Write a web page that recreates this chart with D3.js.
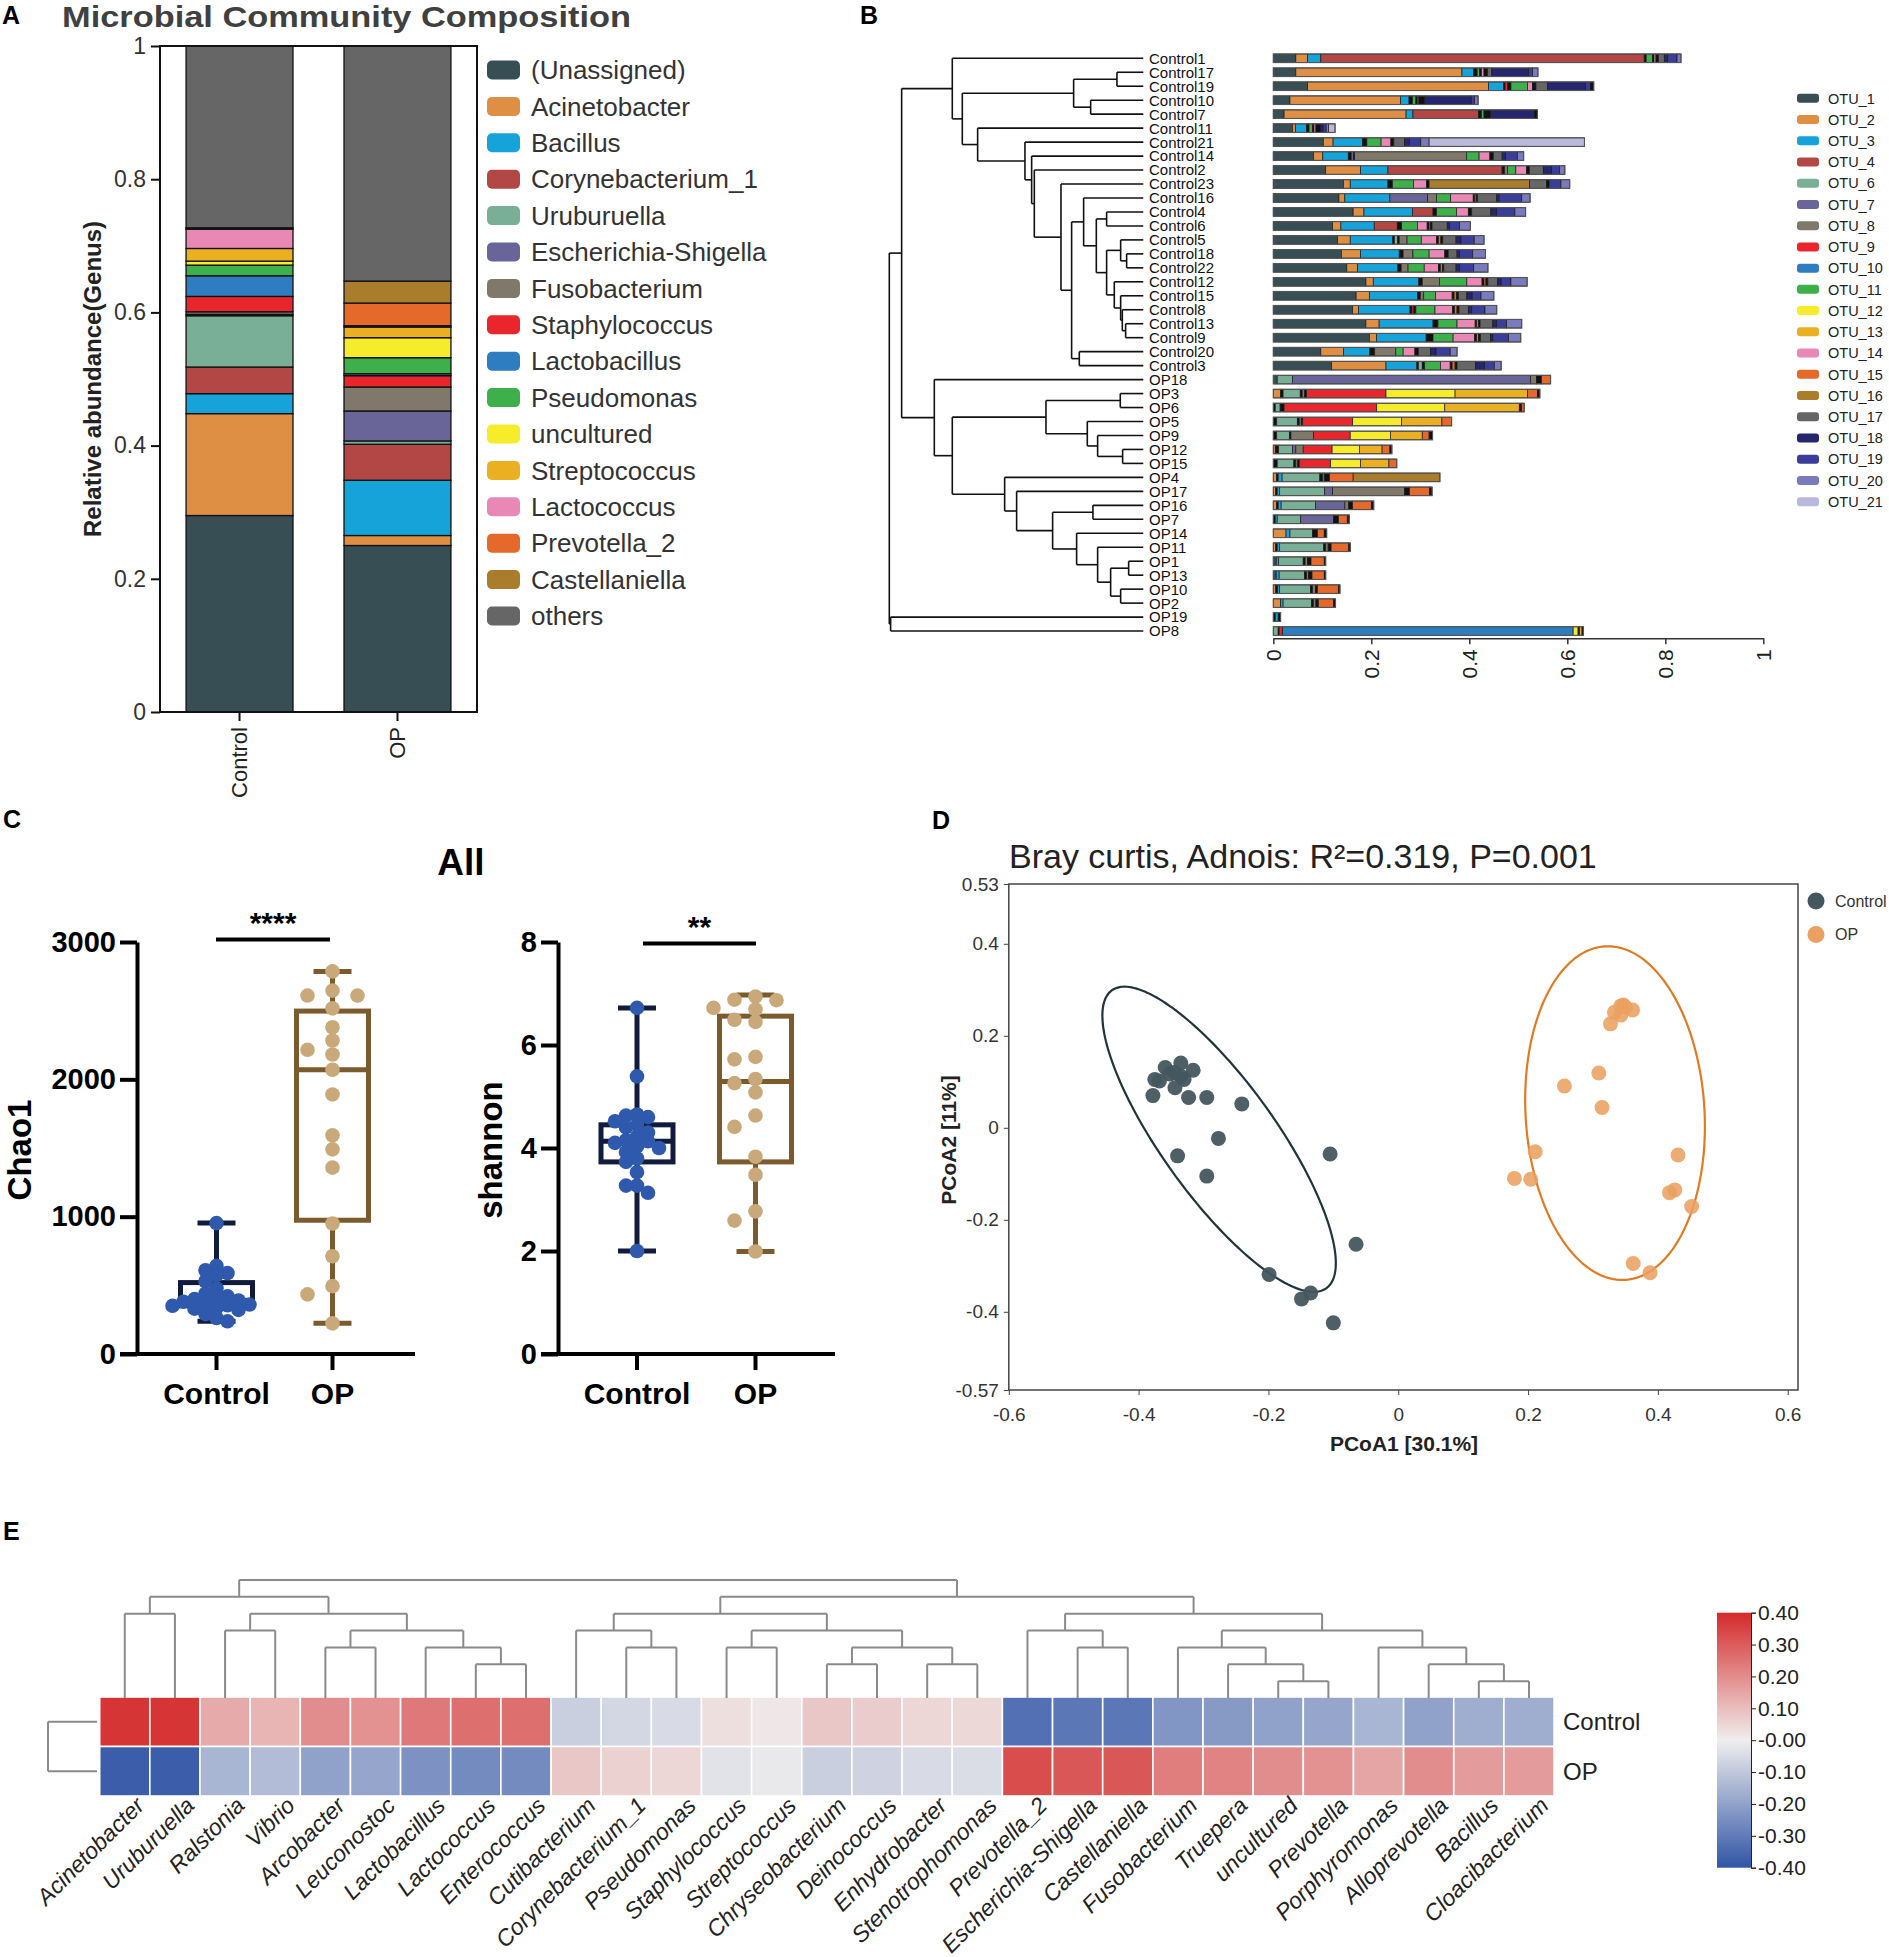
<!DOCTYPE html>
<html><head><meta charset="utf-8">
<script src="https://cdn.jsdelivr.net/npm/d3@7"></script>
<style>
body{margin:0;background:#fff}
svg{display:block}
svg text{font-family:"Liberation Sans",Arial,Helvetica,sans-serif}
</style>
</head><body>
<svg id="chart" width="1889" height="1957"></svg>
<script>
// ================= DATA =================
// Panel A
const genera = ["(Unassigned)","Acinetobacter","Bacillus","Corynebacterium_1","Uruburuella","Escherichia-Shigella","Fusobacterium","Staphylococcus","Lactobacillus","Pseudomonas","uncultured","Streptococcus","Lactococcus","Prevotella_2","Castellaniella","others"];
const genusColors = ["#374E55","#DF8F44","#16A3DA","#B24745","#79AF97","#6A6599","#80796B","#E8262B","#2F7DC1","#3DB04C","#F7EC2B","#EBB022","#E987B5","#E4692A","#A97D2C","#666666"];
const groupsA = ["Control","OP"];
const controlGenus = [0.295,0.153,0.030,0.040,0.077,0.002,0.004,0.023,0.031,0.016,0.006,0.019,0.029,0.001,0.001,0.273];
const opGenus      = [0.250,0.015,0.083,0.054,0.005,0.045,0.036,0.017,0.003,0.024,0.030,0.016,0.002,0.034,0.033,0.353];
const abundanceTicks = [0,0.2,0.4,0.6,0.8,1];

// Panel B
const otuNames = ["OTU_1","OTU_2","OTU_3","OTU_4","OTU_6","OTU_7","OTU_8","OTU_9","OTU_10","OTU_11","OTU_12","OTU_13","OTU_14","OTU_15","OTU_16","OTU_17","OTU_18","OTU_19","OTU_20","OTU_21"];
const otuColorList = ["#374E55","#DF8F44","#16A3DA","#B24745","#79AF97","#6A6599","#80796B","#E8262B","#2F7DC1","#3DB04C","#F7EC2B","#EBB022","#E987B5","#E4692A","#A97D2C","#666666","#26266E","#3B3D9A","#7B7ABD","#B9B8DD"];
const otherOtuColor = "#111111"; // key 0 : small unlisted OTUs
const relTicks = [0,0.2,0.4,0.6,0.8,1];
const sampleTree = {h:1.0,c:[
  {h:0.9514,c:[
    {h:0.752,c:["Control1",
      {h:0.7126,c:[
        {h:0.2743,c:[{h:0.1037,c:["Control17","Control19"]},{h:0.2073,c:["Control10","Control7"]}]},
        {h:0.6522,c:["Control11",
          {h:0.4659,c:["Control21",
            {h:0.4396,c:["Control14",
              {h:0.4291,c:["Control2",
                {h:0.3241,c:["Control23",
                  {h:0.2822,c:[
                    {h:0.2349,c:["Control16",
                      {h:0.185,c:[
                        {h:0.1444,c:["Control4","Control6"]},
                        {h:0.1444,c:[
                          {h:0.0892,c:["Control5",{h:0.0656,c:["Control18","Control22"]}]},
                          {h:0.1142,c:["Control12",{h:0.0892,c:["Control15",{h:0.0827,c:["Control8",{h:0.0696,c:["Control13","Control9"]}]}]}]}
                        ]}
                      ]}
                    ]},
                    {h:0.252,c:["Control20","Control3"]}
                  ]}
                ]}
              ]}
            ]}
          ]}
        ]}
      ]}
    ]},
    {h:0.8228,c:["OP18",
      {h:0.752,c:[
        {h:0.3832,c:[{h:0.0906,c:["OP3","OP6"]},{h:0.2205,c:["OP5",{h:0.1798,c:["OP9",{h:0.0814,c:["OP12","OP15"]}]}]}]},
        {h:0.5459,c:["OP4",
          {h:0.4987,c:["OP17",
            {h:0.357,c:[
              {h:0.1982,c:["OP16","OP7"]},
              {h:0.2625,c:["OP14",{h:0.1798,c:["OP11",{h:0.1286,c:[{h:0.0577,c:["OP1","OP13"]},{h:0.0892,c:["OP10","OP2"]}]}]}]}
            ]}
          ]}
        ]}
      ]}
    ]}
  ]},
  {h:0.9948,c:["OP19","OP8"]}
]};
// [otu number, relative abundance] in stacking order (0 = small unlisted OTUs)
const sampleSegments = {
 Control1:[[1,.046],[2,.024],[3,.027],[4,.660],[0,.004],[11,.013],[0,.003],[14,.004],[0,.005],[17,.012],[18,.007],[19,.019],[20,.008]],
 Control17:[[1,.046],[2,.339],[3,.024],[0,.007],[11,.005],[0,.004],[14,.005],[0,.007],[17,.009],[18,.075],[19,.008],[20,.011]],
 Control19:[[1,.070],[2,.369],[3,.031],[0,.003],[9,.005],[0,.007],[11,.034],[14,.010],[0,.007],[17,.024],[18,.077],[19,.010],[0,.007]],
 Control10:[[1,.034],[2,.226],[3,.017],[0,.007],[11,.007],[0,.003],[14,.003],[0,.012],[18,.095],[19,.007],[20,.007]],
 Control7:[[1,.022],[2,.249],[3,.014],[4,.134],[0,.006],[11,.005],[0,.013],[18,.090],[0,.006]],
 Control11:[[1,.039],[2,.006],[3,.023],[0,.005],[11,.007],[0,.003],[14,.004],[0,.010],[18,.005],[19,.006],[20,.005],[21,.013]],
 Control21:[[1,.102],[2,.020],[3,.060],[0,.009],[11,.029],[14,.020],[0,.006],[17,.022],[18,.010],[19,.023],[20,.017],[21,.317]],
 Control14:[[1,.082],[2,.019],[3,.052],[0,.006],[7,.005],[0,.002],[8,.228],[11,.026],[14,.022],[0,.007],[17,.018],[18,.007],[19,.024],[20,.013]],
 Control2:[[1,.107],[2,.071],[3,.056],[4,.233],[0,.005],[8,.006],[11,.017],[14,.022],[0,.006],[17,.028],[18,.017],[19,.016],[20,.011]],
 Control23:[[1,.143],[2,.014],[3,.077],[0,.009],[11,.043],[14,.027],[0,.005],[16,.205],[17,.035],[0,.005],[19,.024],[20,.018]],
 Control16:[[1,.134],[2,.012],[3,.092],[7,.077],[8,.018],[11,.029],[14,.046],[0,.003],[15,.003],[0,.003],[17,.039],[18,.005],[19,.046],[20,.017]],
 Control4:[[1,.163],[2,.022],[3,.099],[4,.042],[0,.007],[11,.041],[14,.024],[0,.007],[17,.039],[18,.012],[19,.037],[20,.022]],
 Control6:[[1,.121],[2,.017],[3,.068],[4,.047],[0,.009],[11,.032],[14,.020],[0,.004],[15,.003],[0,.003],[17,.031],[18,.005],[19,.020],[20,.022]],
 Control5:[[1,.131],[2,.026],[3,.087],[0,.003],[6,.007],[0,.003],[8,.016],[11,.029],[14,.031],[0,.004],[15,.005],[0,.004],[17,.027],[18,.010],[19,.027],[20,.020]],
 Control18:[[1,.139],[2,.039],[3,.079],[0,.008],[8,.020],[11,.033],[14,.032],[0,.007],[17,.018],[18,.005],[19,.027],[20,.026]],
 Control22:[[1,.150],[2,.022],[3,.082],[0,.007],[8,.014],[11,.033],[14,.029],[0,.004],[15,.004],[0,.003],[17,.025],[18,.007],[19,.029],[20,.029]],
 Control12:[[1,.189],[2,.015],[3,.093],[0,.007],[8,.035],[11,.056],[14,.031],[0,.004],[15,.004],[0,.004],[17,.020],[18,.007],[19,.020],[20,.033]],
 Control15:[[1,.169],[2,.027],[3,.098],[0,.006],[8,.007],[11,.024],[14,.034],[0,.004],[15,.005],[0,.004],[17,.017],[18,.011],[19,.018],[20,.026]],
 Control8:[[1,.162],[2,.012],[3,.105],[0,.004],[9,.004],[0,.004],[11,.039],[14,.036],[0,.004],[15,.005],[0,.004],[17,.019],[18,.007],[19,.027],[20,.024]],
 Control13:[[1,.189],[2,.027],[3,.110],[0,.010],[11,.039],[14,.037],[0,.003],[15,.004],[0,.003],[17,.026],[18,.008],[19,.020],[20,.031]],
 Control9:[[1,.196],[2,.015],[3,.101],[0,.014],[11,.041],[14,.044],[0,.004],[15,.004],[0,.004],[17,.020],[18,.005],[19,.032],[20,.025]],
 Control20:[[1,.097],[2,.046],[3,.054],[0,.010],[8,.043],[11,.015],[14,.024],[0,.007],[17,.025],[18,.011],[19,.029],[20,.014]],
 Control3:[[1,.119],[2,.111],[3,.063],[0,.003],[6,.008],[0,.005],[11,.032],[14,.020],[0,.004],[15,.006],[0,.004],[17,.038],[18,.018],[19,.020],[20,.014]],
 OP18:[[1,.008],[6,.031],[7,.486],[8,.012],[0,.010],[15,.019]],
 OP3:[[2,.015],[0,.005],[6,.035],[0,.004],[8,.005],[0,.004],[9,.162],[12,.141],[13,.148],[15,.020],[0,.005]],
 OP6:[[0,.004],[6,.010],[0,.008],[9,.189],[12,.139],[13,.152],[0,.005],[15,.005]],
 OP5:[[0,.007],[6,.042],[0,.004],[8,.004],[0,.003],[9,.102],[12,.100],[13,.082],[15,.020]],
 OP9:[[0,.007],[6,.026],[0,.003],[8,.046],[9,.075],[12,.082],[13,.065],[15,.014],[0,.007]],
 OP12:[[2,.004],[0,.007],[6,.028],[7,.007],[8,.015],[9,.059],[12,.056],[13,.046],[15,.016],[0,.004]],
 OP15:[[0,.008],[6,.034],[0,.004],[8,.004],[0,.003],[9,.064],[12,.061],[13,.058],[15,.016]],
 OP4:[[2,.007],[0,.003],[3,.008],[6,.077],[0,.006],[10,.004],[0,.010],[15,.048],[16,.177]],
 OP17:[[2,.005],[0,.003],[3,.005],[6,.092],[7,.016],[8,.147],[0,.010],[15,.041],[0,.005]],
 OP16:[[2,.007],[0,.003],[3,.006],[6,.070],[7,.060],[8,.008],[0,.008],[15,.038],[0,.005]],
 OP7:[[0,.004],[3,.004],[6,.048],[7,.067],[0,.010],[15,.018],[0,.004]],
 OP14:[[2,.026],[3,.008],[6,.046],[0,.010],[15,.014],[0,.005]],
 OP11:[[2,.005],[0,.003],[3,.005],[6,.090],[0,.004],[8,.005],[0,.006],[15,.036],[0,.003]],
 OP1:[[1,.006],[3,.005],[6,.050],[0,.004],[8,.005],[0,.007],[15,.027],[0,.003]],
 OP13:[[1,.006],[3,.006],[6,.052],[0,.004],[8,.004],[0,.007],[15,.025],[0,.003]],
 OP10:[[2,.005],[0,.004],[3,.004],[6,.063],[0,.004],[8,.006],[0,.004],[15,.043],[0,.003]],
 OP2:[[2,.015],[3,.005],[6,.058],[0,.004],[8,.005],[0,.005],[15,.031],[0,.004]],
 OP19:[[0,.004],[3,.006],[0,.005]],
 OP8:[[6,.010],[0,.002],[9,.007],[10,.593],[12,.010],[0,.003],[13,.005],[0,.003]]
};

// Panel C
const groupsC = ["Control","OP"];
const chaoControl = [953,642,610,589,574,530,478,440,420,411,400,390,381,370,360,355,351,337,330,321,290,262,238];
const chaoOP = [2786,2646,2610,2610,2517,2379,2283,2215,2181,2070,1890,1592,1490,1357,950,712,494,434,223];
const shannonControl = [6.72,5.39,4.65,4.63,4.60,4.52,4.45,4.40,4.30,4.22,4.15,4.13,4.10,4.03,4.00,3.92,3.80,3.73,3.53,3.27,3.27,3.13,2.00];
const shannonOP = [6.94,6.88,6.87,6.72,6.69,6.49,6.45,5.77,5.72,5.34,5.26,5.08,4.63,4.41,3.83,3.48,2.77,2.59,1.99];
// [min, q1, median, q3, max]
const chaoBoxControl = [238,351,390,520,953];
const chaoBoxOP = [223,974,2070,2497,2786];
const shannonBoxControl = [2.00,3.73,4.13,4.45,6.72];
const shannonBoxOP = [1.99,3.73,5.29,6.56,6.97];
const chaoTicks = [0,1000,2000,3000];
const shannonTicks = [0,2,4,6,8];

// Panel D
const pcoaControl = [[-0.335,0.141],[-0.359,0.131],[-0.316,0.125],[-0.352,0.117],[-0.345,0.120],[-0.375,0.105],[-0.368,0.102],[-0.330,0.105],[-0.335,0.112],[-0.344,0.087],[-0.378,0.070],[-0.323,0.066],[-0.295,0.066],[-0.241,0.052],[-0.277,-0.023],[-0.340,-0.061],[-0.295,-0.105],[-0.105,-0.057],[-0.065,-0.253],[-0.199,-0.319],[-0.135,-0.359],[-0.149,-0.372],[-0.100,-0.424]];
const pcoaOP = [[0.347,0.267],[0.343,0.265],[0.350,0.262],[0.333,0.251],[0.361,0.256],[0.343,0.245],[0.327,0.226],[0.309,0.119],[0.256,0.091],[0.314,0.044],[0.211,-0.052],[0.179,-0.110],[0.204,-0.112],[0.431,-0.059],[0.426,-0.135],[0.418,-0.141],[0.452,-0.171],[0.362,-0.295],[0.388,-0.315]];
// ellipse: centre and two semi-axis vectors in data units
const ellipseControl = {cx:-0.276, cy:-0.025, ax:0.165, ay:-0.324, bx:-0.0715, by:-0.0714};
const ellipseOP = {cx:0.334, cy:0.032, ax:0.0153, ay:-0.3625, bx:0.1376, by:0.0114};
const pcoaXTicks = [-0.6,-0.4,-0.2,0,0.2,0.4,0.6];
const pcoaYTicks = [0.53,0.4,0.2,0,-0.2,-0.4,-0.57];

// Panel E
const heatGenera = ["Acinetobacter","Uruburuella","Ralstonia","Vibrio","Arcobacter","Leuconostoc","Lactobacillus","Lactococcus","Enterococcus","Cutibacterium","Corynebacterium_1","Pseudomonas","Staphylococcus","Streptococcus","Chryseobacterium","Deinococcus","Enhydrobacter","Stenotrophomonas","Prevotella_2","Escherichia-Shigella","Castellaniella","Fusobacterium","Truepera","uncultured","Prevotella","Porphyromonas","Alloprevotella","Bacillus","Cloacibacterium"];
const heatRows = ["Control","OP"];
const heatControl = [0.38,0.38,0.14,0.12,0.20,0.19,0.24,0.26,0.26,-0.08,-0.06,-0.05,0.03,0.015,0.08,0.07,0.05,0.045,-0.33,-0.31,-0.31,-0.23,-0.22,-0.20,-0.19,-0.15,-0.20,-0.17,-0.17];
const heatOP      = [-0.38,-0.38,-0.15,-0.13,-0.20,-0.19,-0.24,-0.26,-0.26,0.08,0.06,0.05,-0.03,-0.015,-0.08,-0.07,-0.05,-0.045,0.33,0.31,0.31,0.23,0.22,0.20,0.19,0.15,0.20,0.17,0.17];
const heatTree = {h:7,c:[
 {h:6,c:[
   {h:5,c:["Acinetobacter","Uruburuella"]},
   {h:5,c:[
     {h:4,c:["Ralstonia","Vibrio"]},
     {h:4,c:[{h:3,c:["Arcobacter","Leuconostoc"]},{h:3,c:["Lactobacillus",{h:2,c:["Lactococcus","Enterococcus"]}]}]}
   ]}
 ]},
 {h:6,c:[
   {h:5,c:[
     {h:4,c:["Cutibacterium",{h:3,c:["Corynebacterium_1","Pseudomonas"]}]},
     {h:4,c:[{h:3,c:["Staphylococcus","Streptococcus"]},{h:3,c:[{h:2,c:["Chryseobacterium","Deinococcus"]},{h:2,c:["Enhydrobacter","Stenotrophomonas"]}]}]}
   ]},
   {h:5,c:[
     {h:4,c:["Prevotella_2",{h:3,c:["Escherichia-Shigella","Castellaniella"]}]},
     {h:4,c:[
       {h:3,c:["Fusobacterium",{h:2,c:["Truepera",{h:1,c:["uncultured","Prevotella"]}]}]},
       {h:3,c:["Porphyromonas",{h:2,c:["Alloprevotella",{h:1,c:["Bacillus","Cloacibacterium"]}]}]}
     ]}
   ]}
 ]}
]};
const colorbarTicks = [0.4,0.3,0.2,0.1,0,-0.1,-0.2,-0.3,-0.4];
const colorbarLabels = ["0.40","0.30","0.20","0.10","-0.00","-0.10","-0.20","-0.30","-0.40"];

// ================= DRAW =================
const svg = d3.select("#chart");

function panelLabel(t,x,y){
  svg.append("text").attr("x",x).attr("y",y).attr("font-size",25).attr("font-weight","bold").attr("fill","#000").text(t);
}
panelLabel("A",2,24); panelLabel("B",860,24); panelLabel("C",3,828); panelLabel("D",932,829); panelLabel("E",3,1540);

// ---------- Panel A ----------
(function(){
  const g = svg.append("g");
  const x = d3.scaleBand().domain(groupsA).range([160,477]).paddingInner(0.323).paddingOuter(0.165);
  const y = d3.scaleLinear().domain([0,1]).range([712,46]);
  const rows = groupsA.map((grp,i)=>{const vals=i===0?controlGenus:opGenus;const o={group:grp};genera.forEach((n,j)=>o[n]=vals[j]);return o;});
  const series = d3.stack().keys(genera)(rows);
  series.forEach((s,j)=>{
    g.selectAll(null).data(s).join("rect")
      .attr("x",d=>x(d.data.group)).attr("width",x.bandwidth())
      .attr("y",d=>y(d[1])).attr("height",d=>Math.max(0,y(d[0])-y(d[1])))
      .attr("fill",genusColors[j]).attr("stroke","#111").attr("stroke-width",1.3);
  });
  g.append("rect").attr("x",160).attr("y",y(1)).attr("width",317).attr("height",y(0)-y(1))
    .attr("fill","none").attr("stroke","#111").attr("stroke-width",2);
  const ax = g.append("g").attr("transform","translate(160,0)")
    .call(d3.axisLeft(y).tickValues(abundanceTicks).tickSize(9).tickPadding(5).tickFormat(d3.format("~g")));
  ax.select(".domain").remove();
  ax.selectAll("line").attr("stroke","#111").attr("stroke-width",2);
  ax.selectAll("text").attr("font-size",23).attr("fill","#333");
  groupsA.forEach(grp=>{
    const cx = x(grp)+x.bandwidth()/2;
    g.append("line").attr("x1",cx).attr("x2",cx).attr("y1",712).attr("y2",721).attr("stroke","#111").attr("stroke-width",2);
    g.append("text").attr("transform",`translate(${cx},727) rotate(-90)`).attr("dy","0.35em")
      .attr("text-anchor","end").attr("font-size",22).attr("fill","#222").text(grp);
  });
  g.append("text").attr("transform","translate(101,379) rotate(-90)").attr("text-anchor","middle")
    .attr("font-size",24).attr("font-weight","bold").attr("fill","#222").text("Relative abundance(Genus)");
  g.append("text").attr("x",62).attr("y",26.8).attr("font-size",29.5).attr("font-weight","bold").attr("fill","#404040")
    .attr("textLength",569).attr("lengthAdjust","spacingAndGlyphs")
    .text("Microbial Community Composition");
  const lg = g.append("g");
  genera.forEach((n,i)=>{
    const cy = 70 + i*36.4;
    lg.append("rect").attr("x",487).attr("y",cy-9.5).attr("width",33).attr("height",19).attr("rx",5)
      .attr("fill",genusColors[i]);
    lg.append("text").attr("x",531).attr("y",cy).attr("dy","0.35em").attr("font-size",26).attr("fill","#333").text(n);
  });
})();

// ---------- Panel B ----------
(function(){
  const g = svg.append("g");
  const root = d3.hierarchy(sampleTree, d => d.c ? d.c.map(v => typeof v === "string" ? {name:v} : v) : null);
  const leafOrder = root.leaves().map(l=>l.data.name);
  const yB = d3.scaleBand().domain(leafOrder).range([51.3, 51.3+leafOrder.length*13.97]);
  const hx = d3.scaleLinear().domain([0,1]).range([1143.3,889.3]);
  root.eachAfter(n=>{
    if(!n.children){ n.py = yB(n.data.name)+yB.bandwidth()/2; }
    else { n.py = (n.children[0].py + n.children[n.children.length-1].py)/2; }
    n.px = hx(n.data.h || 0);
  });
  const tg = g.append("g").attr("stroke","#111").attr("stroke-width",1.6).attr("fill","none");
  root.each(n=>{
    if(!n.children) return;
    tg.append("line").attr("x1",n.px).attr("x2",n.px).attr("y1",n.children[0].py).attr("y2",n.children[n.children.length-1].py);
    n.children.forEach(c=>tg.append("line").attr("x1",n.px).attr("x2",c.px).attr("y1",c.py).attr("y2",c.py));
  });
  leafOrder.forEach(s=>{
    g.append("text").attr("x",1149).attr("y",yB(s)+yB.bandwidth()/2).attr("dy","0.36em")
      .attr("font-size",15).attr("fill","#111").text(s);
  });
  const xB = d3.scaleLinear().domain([0,1]).range([1273.3,1763.3]);
  const colorOf = k => k===0 ? otherOtuColor : otuColorList[otuNames.indexOf("OTU_"+k)];
  const bh = 8.6;
  leafOrder.forEach(s=>{
    const cy = yB(s)+yB.bandwidth()/2;
    let acc = 0;
    const segs = sampleSegments[s].map(([k,v])=>{const o={k,v,x0:acc};acc+=v;o.x1=acc;return o;});
    g.selectAll(null).data(segs).join("rect")
      .attr("x",d=>xB(d.x0)).attr("width",d=>xB(d.x1)-xB(d.x0))
      .attr("y",cy-bh/2).attr("height",bh)
      .attr("fill",d=>colorOf(d.k)).attr("stroke","#1a1a1a").attr("stroke-width",0.7);
    g.append("rect").attr("x",xB(0)).attr("width",xB(acc)-xB(0)).attr("y",cy-bh/2).attr("height",bh)
      .attr("fill","none").attr("stroke","#555").attr("stroke-width",1.1);
  });
  const ax = g.append("g").attr("transform","translate(0,638.3)")
    .call(d3.axisBottom(xB).tickValues(relTicks).tickSize(6).tickSizeOuter(0).tickFormat(d3.format("~g")));
  ax.select(".domain").attr("stroke","#333").attr("stroke-width",1.5);
  ax.selectAll("line").attr("stroke","#333").attr("stroke-width",1.5);
  ax.selectAll("text").attr("x",0).attr("y",0).attr("dy","0.35em").attr("transform","translate(0,11) rotate(-90)")
    .attr("text-anchor","end").attr("font-size",21).attr("fill","#222");
  otuNames.forEach((n,i)=>{
    const cy = 98.3 + i*21.23;
    g.append("rect").attr("x",1797).attr("y",cy-4.5).attr("width",22).attr("height",9).attr("rx",3).attr("fill",otuColorList[i]);
    g.append("text").attr("x",1828).attr("y",cy).attr("dy","0.36em").attr("font-size",14.5).attr("fill","#222").text(n);
  });
})();

// ---------- Panel C ----------
function dodge(vals, yScale, step, thr){
  const order = vals.map((v,i)=>i).sort((a,b)=>vals[b]-vals[a]);
  const placed = []; const offs = new Array(vals.length);
  const cands = [0]; for(let j=1;j<15;j++){cands.push(-j*step, j*step);}
  order.forEach(i=>{
    const y = yScale(vals[i]);
    let off = 0;
    for(const c of cands){ if(placed.every(p=>Math.hypot(p.x-c,p.y-y)>=thr)){off=c;break;} }
    offs[i]=off; placed.push({x:off,y});
  });
  return offs;
}
function alphaPlot(cfg){
  const g = svg.append("g");
  const y = d3.scaleLinear().domain(cfg.domain).range([1354,942]);
  const x = d3.scalePoint().domain(groupsC).range(cfg.xr);
  const ax = g.append("g").attr("transform",`translate(${cfg.ax},0)`)
    .call(d3.axisLeft(y).tickValues(cfg.ticks).tickSize(17).tickSizeOuter(0).tickPadding(4).tickFormat(d=>String(d)));
  ax.select(".domain").attr("stroke","#000").attr("stroke-width",4);
  ax.selectAll("line").attr("stroke","#000").attr("stroke-width",4);
  ax.selectAll("text").attr("font-size",29).attr("font-weight","bold").attr("fill","#000");
  g.append("line").attr("x1",cfg.ax-17).attr("x2",cfg.xEnd).attr("y1",1354).attr("y2",1354).attr("stroke","#000").attr("stroke-width",4);
  groupsC.forEach(grp=>{
    g.append("line").attr("x1",x(grp)).attr("x2",x(grp)).attr("y1",1354).attr("y2",1370).attr("stroke","#000").attr("stroke-width",4);
    g.append("text").attr("x",x(grp)).attr("y",1404).attr("text-anchor","middle").attr("font-size",30)
      .attr("font-weight","bold").attr("fill","#000").text(grp);
  });
  const groups = [
    {grp:"Control", vals:cfg.control, box:cfg.boxControl, stroke:"#101B3D", fill:"#2E59AC", step:11, thr:8.5},
    {grp:"OP", vals:cfg.op, box:cfg.boxOP, stroke:"#7A5B2E", fill:"#C9A97A", step:cfg.opStep, thr:12}
  ];
  groups.forEach(G=>{
    const cx = x(G.grp); const [mn,q1,md,q3,mx] = G.box; const bw = 72, cw = 38;
    const bg = g.append("g").attr("stroke",G.stroke).attr("stroke-width",5).attr("fill","none");
    bg.append("line").attr("x1",cx).attr("x2",cx).attr("y1",y(mx)).attr("y2",y(q3));
    bg.append("line").attr("x1",cx).attr("x2",cx).attr("y1",y(q1)).attr("y2",y(mn));
    bg.append("line").attr("x1",cx-cw/2).attr("x2",cx+cw/2).attr("y1",y(mx)).attr("y2",y(mx));
    bg.append("line").attr("x1",cx-cw/2).attr("x2",cx+cw/2).attr("y1",y(mn)).attr("y2",y(mn));
    bg.append("rect").attr("x",cx-bw/2).attr("width",bw).attr("y",y(q3)).attr("height",y(q1)-y(q3));
    bg.append("line").attr("x1",cx-bw/2).attr("x2",cx+bw/2).attr("y1",y(md)).attr("y2",y(md));
    const offs = dodge(G.vals, y, G.step, G.thr);
    g.selectAll(null).data(G.vals).join("circle")
      .attr("cx",(d,i)=>cx+offs[i]).attr("cy",d=>y(d)).attr("r",7.3).attr("fill",G.fill);
  });
  g.append("line").attr("x1",cfg.sig[0]).attr("x2",cfg.sig[1]).attr("y1",cfg.sig[2]).attr("y2",cfg.sig[2]).attr("stroke","#000").attr("stroke-width",4);
  g.append("text").attr("x",(cfg.sig[0]+cfg.sig[1])/2).attr("y",cfg.sig[2]-7).attr("text-anchor","middle")
    .attr("font-size",30).attr("font-weight","bold").attr("fill","#000").text(cfg.stars);
  g.append("text").attr("transform",`translate(${cfg.titleX},1150) rotate(-90)`).attr("text-anchor","middle")
    .attr("font-size",33).attr("font-weight","bold").attr("fill","#000").text(cfg.title);
}
alphaPlot({domain:[0,3000], ticks:chaoTicks, ax:137, xr:[216.5,332.5], xEnd:415, control:chaoControl, op:chaoOP,
  boxControl:chaoBoxControl, boxOP:chaoBoxOP, opStep:25, sig:[216,330,939.5], stars:"****", title:"Chao1", titleX:31});
alphaPlot({domain:[0,8], ticks:shannonTicks, ax:558, xr:[637,755.5], xEnd:835, control:shannonControl, op:shannonOP,
  boxControl:shannonBoxControl, boxOP:shannonBoxOP, opStep:21, sig:[643,756,943.5], stars:"**", title:"shannon", titleX:502});
svg.append("text").attr("x",461).attr("y",875).attr("text-anchor","middle").attr("font-size",37).attr("font-weight","bold").attr("fill","#000").text("All");

// ---------- Panel D ----------
(function(){
  const g = svg.append("g");
  const x = d3.scaleLinear().domain([-0.6,0.6]).range([1008.8,1787.7]);
  const y = d3.scaleLinear().domain([-0.57,0.53]).range([1390,884]);
  g.append("rect").attr("x",1008.8).attr("y",884).attr("width",1798-1008.8).attr("height",1390-884)
    .attr("fill","none").attr("stroke","#444").attr("stroke-width",1.5);
  const fmt = d => String(d);
  const axL = g.append("g").attr("transform","translate(1008.8,0)").call(d3.axisLeft(y).tickValues(pcoaYTicks).tickSize(5).tickPadding(5).tickFormat(fmt));
  axL.select(".domain").remove();
  axL.selectAll("line").attr("stroke","#444");
  axL.selectAll("text").attr("font-size",19).attr("fill","#333");
  const axB = g.append("g").attr("transform","translate(0,1390)").call(d3.axisBottom(x).tickValues(pcoaXTicks).tickSize(5).tickPadding(13).tickFormat(fmt));
  axB.select(".domain").remove();
  axB.selectAll("line").attr("stroke","#444");
  axB.selectAll("text").attr("font-size",19).attr("fill","#333");
  const ell = e => {
    const pts = d3.range(0,200).map(i=>{const t=i/200*2*Math.PI;return [x(e.cx+Math.cos(t)*e.ax+Math.sin(t)*e.bx), y(e.cy+Math.cos(t)*e.ay+Math.sin(t)*e.by)];});
    return d3.line().curve(d3.curveLinearClosed)(pts);
  };
  g.append("path").attr("d",ell(ellipseControl)).attr("fill","none").attr("stroke","#1F343B").attr("stroke-width",2.2);
  g.append("path").attr("d",ell(ellipseOP)).attr("fill","none").attr("stroke","#E07B24").attr("stroke-width",2.2);
  g.selectAll(null).data(pcoaControl).join("circle").attr("cx",d=>x(d[0])).attr("cy",d=>y(d[1])).attr("r",7.5)
    .attr("fill","#44565E").attr("fill-opacity",0.95);
  g.selectAll(null).data(pcoaOP).join("circle").attr("cx",d=>x(d[0])).attr("cy",d=>y(d[1])).attr("r",7.5)
    .attr("fill","#E9A061").attr("fill-opacity",0.88);
  g.append("text").attr("x",1009).attr("y",868).attr("font-size",34).attr("fill","#222").text("Bray curtis, Adnois: R²=0.319, P=0.001");
  g.append("text").attr("x",1404).attr("y",1451).attr("text-anchor","middle").attr("font-size",21).attr("font-weight","bold").attr("fill","#222").text("PCoA1 [30.1%]");
  g.append("text").attr("transform","translate(956,1140) rotate(-90)").attr("text-anchor","middle").attr("font-size",21).attr("font-weight","bold").attr("fill","#222").text("PCoA2 [11%]");
  [["Control","#44565E"],["OP","#E9A061"]].forEach(([n,c],i)=>{
    const cy = 901 + i*33.5;
    g.append("circle").attr("cx",1816).attr("cy",cy).attr("r",8.5).attr("fill",c);
    g.append("text").attr("x",1835).attr("y",cy).attr("dy","0.35em").attr("font-size",16).attr("fill","#333").text(n);
  });
})();

// ---------- Panel E ----------
(function(){
  const g = svg.append("g");
  const x = d3.scaleBand().domain(heatGenera).range([99.7, 99.7+29*50.15]);
  const yr = d3.scaleBand().domain(heatRows).range([1697,1796]);
  const color = d3.scaleLinear().domain([-0.4,0,0.4]).range(["#3155A6","#F0EEEE","#D42B2B"]).clamp(true);
  heatRows.forEach((r,ri)=>{
    const vals = ri===0 ? heatControl : heatOP;
    g.selectAll(null).data(heatGenera).join("rect")
      .attr("x",d=>x(d)).attr("width",x.bandwidth()).attr("y",yr(r)).attr("height",yr.bandwidth())
      .attr("fill",(d,i)=>color(vals[i])).attr("stroke","#fff").attr("stroke-width",1.6);
    g.append("text").attr("x",1563).attr("y",yr(r)+yr.bandwidth()/2).attr("dy","0.36em").attr("font-size",24).attr("fill","#222").text(r);
  });
  const root = d3.hierarchy(heatTree, d => d.c ? d.c.map(v => typeof v === "string" ? {name:v} : v) : null);
  const hy = d3.scaleLinear().domain([0,7]).range([1698,1580]);
  root.eachAfter(n=>{
    if(!n.children) n.px = x(n.data.name)+x.bandwidth()/2;
    else n.px = (n.children[0].px + n.children[n.children.length-1].px)/2;
    n.py = hy(n.data.h || 0);
  });
  const tg = g.append("g").attr("stroke","#8a8a8a").attr("stroke-width",2).attr("fill","none");
  root.each(n=>{
    if(!n.children) return;
    tg.append("line").attr("x1",n.children[0].px).attr("x2",n.children[n.children.length-1].px).attr("y1",n.py).attr("y2",n.py);
    n.children.forEach(c=>tg.append("line").attr("x1",c.px).attr("x2",c.px).attr("y1",n.py).attr("y2",c.py));
  });
  const rc = heatRows.map(r=>yr(r)+yr.bandwidth()/2);
  tg.append("line").attr("x1",48).attr("x2",48).attr("y1",rc[0]).attr("y2",rc[1]);
  rc.forEach(cy=>tg.append("line").attr("x1",48).attr("x2",97).attr("y1",cy).attr("y2",cy));
  heatGenera.forEach(n=>{
    g.append("text").attr("transform",`translate(${x(n)+x.bandwidth()/2+21},1807) rotate(-45)`)
      .attr("text-anchor","end").attr("font-size",23).attr("font-style","italic").attr("fill","#222").text(n);
  });
  const cbY = d3.scaleLinear().domain([-0.4,0.4]).range([1867.7,1612.7]);
  const grad = svg.append("defs").append("linearGradient").attr("id","cbgrad").attr("x1",0).attr("x2",0).attr("y1",1).attr("y2",0);
  d3.range(0,1.0001,0.05).forEach(t=>grad.append("stop").attr("offset",t).attr("stop-color",color(-0.4+0.8*t)));
  g.append("rect").attr("x",1717).attr("y",1612.7).attr("width",34).attr("height",1867.7-1612.7).attr("fill","url(#cbgrad)");
  const ax = g.append("g").attr("transform","translate(1751,0)")
    .call(d3.axisRight(cbY).tickValues(colorbarTicks).tickSize(5).tickPadding(2).tickFormat((d,i)=>colorbarLabels[i]));
  ax.select(".domain").attr("stroke","#222");
  ax.selectAll("line").attr("stroke","#222");
  ax.selectAll("text").attr("font-size",21).attr("fill","#222");
})();
</script>
</body></html>
